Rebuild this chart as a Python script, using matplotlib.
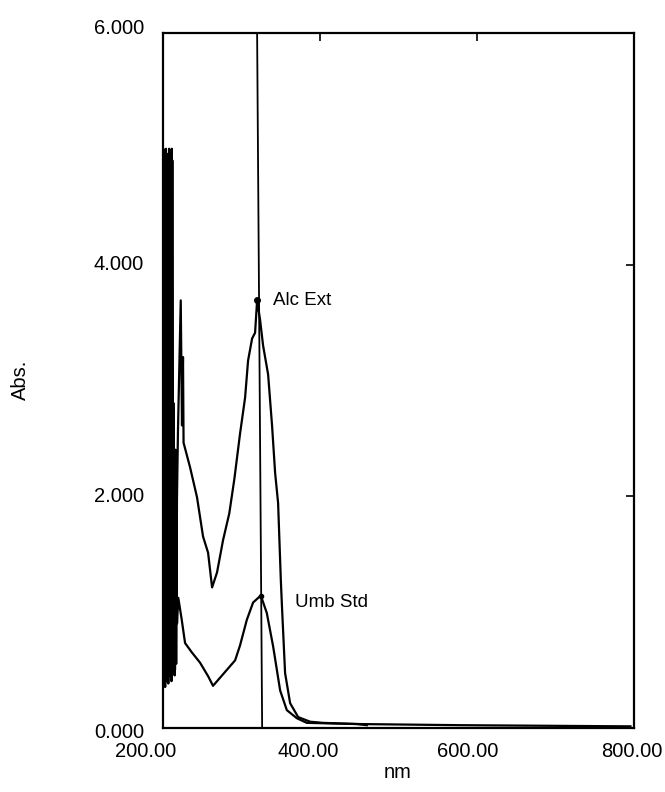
import matplotlib
matplotlib.use('Agg')
import matplotlib.pyplot as plt
import matplotlib.transforms as mtransforms
import numpy as np

plt.rcParams['font.family'] = ['Liberation Sans', 'DejaVu Sans']

# Alc Ext: noisy start then smooth spectrum
alc_wl = [200.6, 201.0, 201.3, 201.6, 202.0, 202.5, 203.0, 203.5, 204.0, 204.4,
          204.7, 205.0, 205.4, 205.9, 206.4, 206.9, 207.4, 207.9, 208.2, 208.5,
          208.8, 209.1, 209.5, 210.0, 210.5, 211.0, 211.5, 211.9, 212.2, 212.5,
          212.9, 213.4, 213.9, 214.4, 214.9, 215.4, 215.9, 216.4, 216.9, 217.4,
          217.9, 218.4, 219.7, 223.2, 224.8, 226.1, 226.8, 235.0, 243.9, 251.6,
          258.0, 263.1, 269.4, 277.1, 285.0, 291.5, 298.7, 305.1, 308.9, 314.0,
          317.8, 320.4, 324.2, 328.0, 334.4, 339.5, 343.3, 347.1, 350.6, 352.2,
          356.0, 362.4, 372.6, 387.9, 404.5, 447.8, 579.0, 795.5]
alc_abs = [0.40, 5.00, 0.35, 4.98, 0.50, 2.60, 0.40, 1.90, 0.60, 5.00,
           0.45, 4.96, 0.80, 2.80, 0.40, 1.70, 0.70, 2.40, 0.50, 5.00,
           0.60, 4.95, 1.00, 2.20, 0.45, 2.70, 0.80, 5.00, 0.55, 4.90,
           1.20, 2.50, 0.50, 2.80, 0.70, 2.00, 0.50, 2.40, 0.80, 2.10,
           1.00, 1.97, 2.57, 3.69, 2.61, 3.20, 2.46, 2.25, 1.99, 1.65,
           1.51, 1.21, 1.34, 1.62, 1.85, 2.15, 2.54, 2.85, 3.17, 3.36,
           3.41, 3.69, 3.52, 3.30, 3.05, 2.60, 2.20, 1.94, 1.27, 1.02,
           0.47, 0.21, 0.09, 0.05, 0.04, 0.03, 0.02, 0.01]

# Umb Std
umb_wl = [200.6, 201.0, 201.4, 201.9, 202.4, 202.9, 203.4, 203.9, 204.4, 204.9,
          205.4, 205.9, 206.4, 206.9, 207.4, 207.9, 208.4, 208.9, 209.4, 209.9,
          210.4, 210.9, 211.4, 211.9, 212.4, 212.9, 213.4, 213.9, 214.4, 214.9,
          215.4, 215.9, 216.4, 216.9, 217.4, 217.9, 218.5, 220.1, 224.5, 228.7,
          237.2, 247.8, 258.3, 264.3, 279.6, 292.4, 298.7, 307.3, 315.3, 325.1,
          332.7, 340.8, 349.7, 358.2, 371.0, 383.7, 447.4, 460.0]
umb_abs = [0.35, 1.60, 0.40, 1.90, 0.50, 1.20, 0.35, 1.80, 0.60, 1.40,
           0.40, 1.70, 0.55, 1.30, 0.38, 1.75, 0.70, 1.50, 0.45, 1.85,
           0.60, 1.30, 0.40, 1.60, 0.80, 1.45, 0.50, 1.70, 0.65, 1.20,
           0.45, 1.50, 0.75, 1.25, 0.55, 1.10, 0.90, 1.12, 0.93, 0.73,
           0.65, 0.56, 0.44, 0.36, 0.48, 0.58, 0.71, 0.93, 1.08, 1.14,
           0.99, 0.70, 0.32, 0.15, 0.08, 0.04, 0.03, 0.02]

# cursor line (slightly skewed in the scan)
cursor_wl = [320.4, 326.8]
cursor_abs = [6.0, 0.0]

xticks = [200, 400, 600, 800]
yticks = [0, 2, 4, 6]

fig = plt.figure(figsize=(6.65, 7.92), dpi=100)
ax = fig.add_axes([162.5 / 665, 1 - 727.5 / 792, (634 - 162.5) / 665, (727.5 - 33) / 792])

ax.plot(alc_wl, alc_abs, color='black', lw=1.6)
ax.plot(umb_wl, umb_abs, color='black', lw=1.6)
ax.plot(cursor_wl, cursor_abs, color='black', lw=1.3)
ax.plot([320.4], [3.69], 'o', color='black', ms=4)
ax.plot([325.1], [1.14], 'o', color='black', ms=3)

ax.text(340.8, 3.69, 'Alc Ext', fontsize=13.5, va='center', ha='left')
ax.text(368.8, 1.08, 'Umb Std', fontsize=13.5, va='center', ha='left')

ax.set_xlim(200, 800)
ax.set_ylim(0, 6)
ax.set_xticks(xticks)
ax.set_yticks(yticks)
ax.set_xticklabels(['%.2f' % v for v in xticks])
ax.set_yticklabels(['%.3f' % v for v in yticks])
ax.tick_params(direction='in', top=True, right=True, bottom=False, left=False,
               length=6, width=1.2, labelsize=14.5, color='black')
ax.tick_params(axis='y', pad=13.3)
ax.tick_params(axis='x', pad=12.6)
for s in ax.spines.values():
    s.set_linewidth(1.6)

# small label shifts as in the scanned original
for lab, dx in zip(ax.get_xticklabels(), [-17, -11, -9, -2]):
    lab.set_transform(lab.get_transform() + mtransforms.ScaledTranslation(dx / 100, 3 / 100, fig.dpi_scale_trans))
for lab, dy in zip(ax.get_yticklabels(), [-2.5, 2, 1.5, 6]):
    lab.set_transform(lab.get_transform() + mtransforms.ScaledTranslation(0, dy / 100, fig.dpi_scale_trans))

fig.text(20 / 665, 1 - 380 / 792, 'Abs.', rotation=90, fontsize=14.5, ha='center', va='center')
fig.text(398 / 665, 1 - 772 / 792, 'nm', fontsize=14.5, ha='center', va='center')

fig.savefig('out.png', dpi=100)
